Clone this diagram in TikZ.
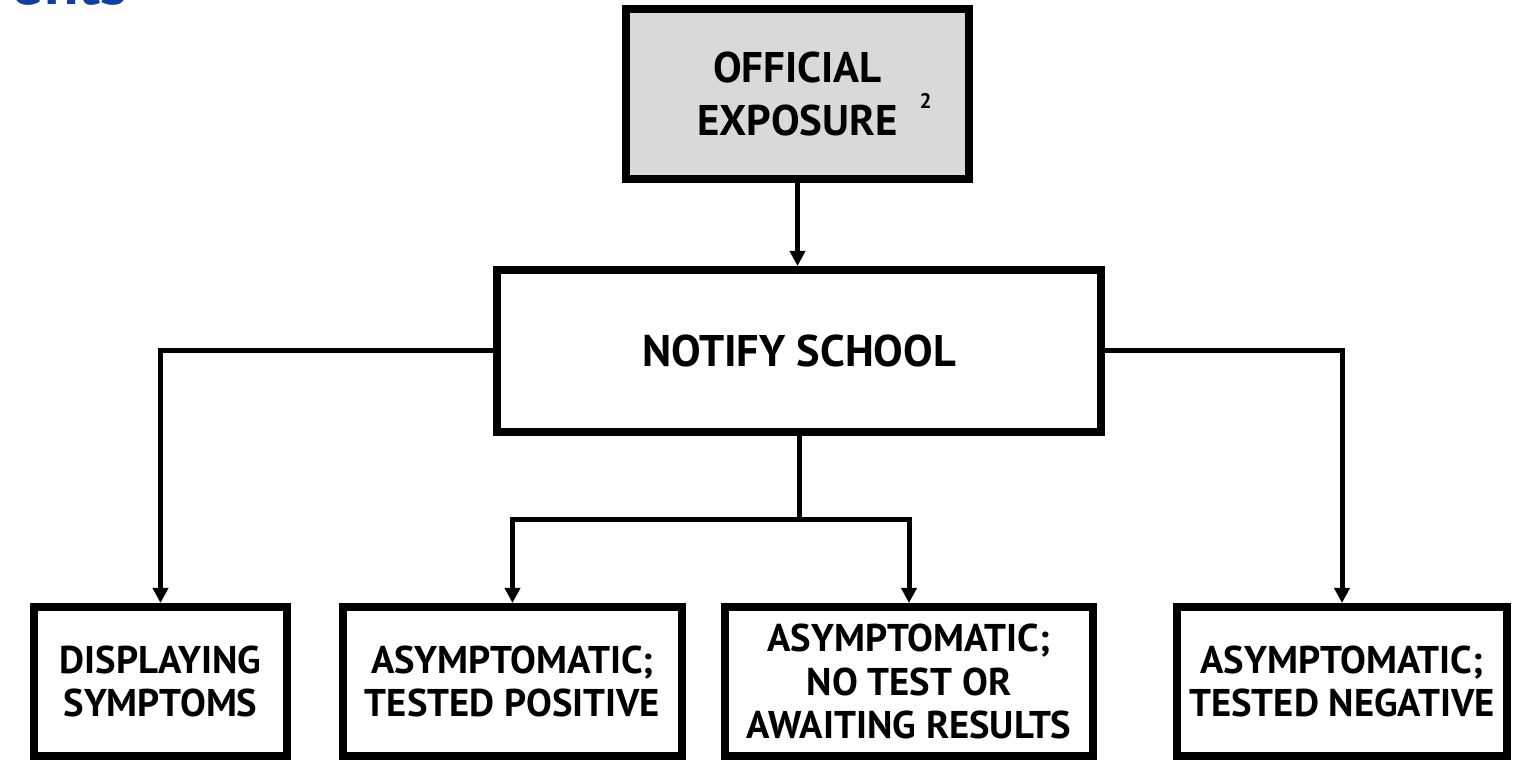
\documentclass[tikz,border=0pt]{standalone}
\usepackage{fontspec}
\setmainfont{PT Sans}
\usetikzlibrary{arrows.meta,positioning}
\definecolor{headblue}{HTML}{0E3FA6}
\definecolor{boxgray}{HTML}{D9D9D9}

\begin{document}
\begin{tikzpicture}[
  box/.style={draw=black, line width=0.08cm, minimum height=1.49cm, inner sep=0, align=center, font=\fontsize{11}{12.5}\selectfont\bfseries},
  topbox/.style={box, fill=boxgray, minimum width=3.43cm, minimum height=1.70cm, font=\fontsize{12.2}{15}\selectfont\bfseries},
  midbox/.style={box, minimum width=6.04cm, minimum height=1.62cm, font=\fontsize{12.6}{13}\selectfont\bfseries},
  link/.style={line width=0.05cm},
  >={Triangle[length=0.15cm, width=0.15cm]}
]
\useasboundingbox (0,0) rectangle (15.39,-7.60);

% heading, cut by the page edge
\node[font=\fontsize{18}{18}\selectfont\bfseries, text=headblue, anchor=base east, inner sep=0] (head) at (1.28,-0.05) {ents};

% top and middle boxes
\node[topbox] (expo) at (7.975,-0.94) {OFFICIAL\\EXPOSURE};
\node[font=\fontsize{6}{6}\selectfont\bfseries, inner sep=0] (expo-note) at (9.255,-1.01) {2};
\node[midbox] (notify) at (7.99,-3.51) {NOTIFY SCHOOL};
\draw[link, ->] (expo.south) -- (expo.south |- notify.north);

% outcome boxes
\foreach \n/\x/\w/\t in {b1/1.605/2.53/{DISPLAYING\\SYMPTOMS},
                         b2/5.125/3.39/{ASYMPTOMATIC;\\TESTED POSITIVE},
                         b3/9.09/3.68/{ASYMPTOMATIC;\\NO TEST OR\\AWAITING RESULTS},
                         b4/13.42/3.30/{ASYMPTOMATIC;\\TESTED NEGATIVE}}{
  \node[box, minimum width=\w cm] (\n) at (\x,-6.815) {\t};
}

% branches
\draw[link, ->] (notify.west) -| (b1.north);
\draw[link, ->] (notify.east) -| (b4.north);
\coordinate[below=0.84cm of notify.south] (split);
\draw[link] (notify.south) -- (split);
\draw[link, ->] (split) -| (b2.north);
\draw[link, ->] (split) -| (b3.north);
\end{tikzpicture}
\end{document}
